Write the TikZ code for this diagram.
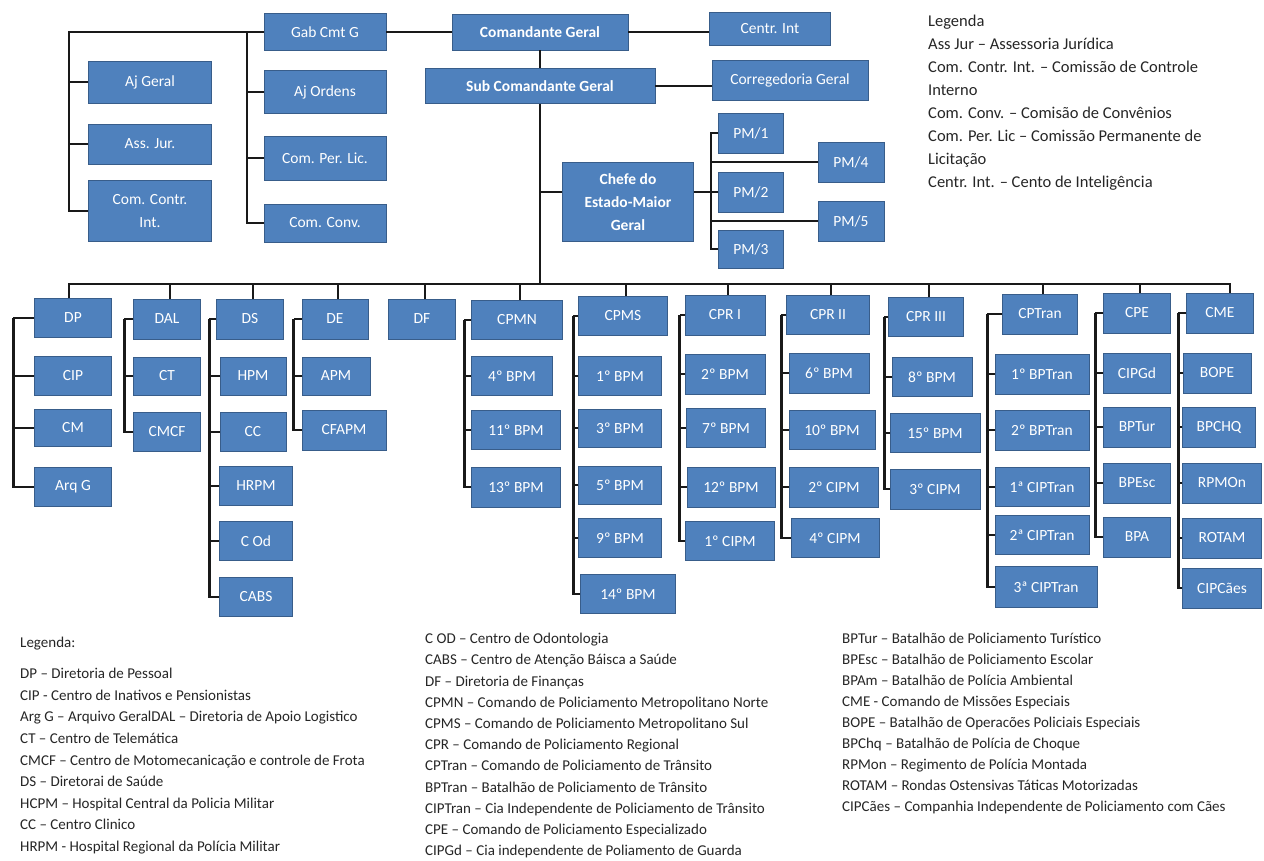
\documentclass[tikz,border=0pt]{standalone}
\usepackage{fontspec}
\setmainfont{Carlito}
\usetikzlibrary{positioning, calc}

\definecolor{unitblue}{RGB}{79,129,189}
\definecolor{unitedge}{RGB}{56,93,138}
\definecolor{linkgray}{RGB}{25,25,25}

\begin{document}
\begin{tikzpicture}[x=1pt, y=-1pt,
  unit/.style={draw=unitedge, line width=0.8pt, fill=unitblue, text=white, inner sep=0pt,
    minimum width=#1, minimum height=39pt, align=center, font=\fontsize{15.5}{23}\selectfont},
  unit/.default=67pt,
  head/.style={unit=#1, font=\fontsize{15.5}{23}\selectfont\bfseries},
  link/.style={draw=linkgray, line width=2.8pt},
  legend/.style={anchor=north west, inner sep=0pt, align=left, text=black!85}
]
\fill[white] (0,0) rectangle (1264,861);
\useasboundingbox (0,0) rectangle (1264,861);

% command level
\node[head=176pt, minimum height=36pt] (cmdg) at (540,32) {Comandante Geral};
\node[unit=122pt, minimum height=37pt] (gab) at (325,32) {Gab Cmt G};
\node[unit=121pt, minimum height=33pt] (centr) at (770,29) {Centr. Int};
\node[head=230pt, minimum height=35pt] (subcmd) at (540,86) {Sub Comandante Geral};
\node[unit=156pt, minimum height=40pt] (correg) at (790,80) {Corregedoria Geral};
\node[unit=123pt, minimum height=42pt] (ajgeral) at (150,82) {Aj Geral};
\node[unit=123pt, minimum height=40pt] (assjur) at (150,144) {Ass. Jur.};
\node[unit=123pt, minimum height=61pt] (comcontr) at (150,211) {Com. Contr.\\Int.};
\node[unit=122pt, minimum height=43pt] (ajordens) at (325,92) {Aj Ordens};
\node[unit=122pt, minimum height=44pt] (comperlic) at (325,158) {Com. Per. Lic.};
\node[unit=122pt, minimum height=38pt] (comconv) at (325,223) {Com. Conv.};

% staff
\node[head=131pt, minimum height=79pt] (chefe) at (628,202) {Chefe do\\Estado-Maior\\Geral};
\node[unit=65pt, minimum height=40pt] (pm1) at (751,133) {PM/1};
\node[unit=65pt, minimum height=40pt] (pm2) at (751,192) {PM/2};
\node[unit=65pt, minimum height=38pt] (pm3) at (751,249) {PM/3};
\node[unit=66pt, minimum height=40pt] (pm4) at (851,162) {PM/4};
\node[unit=66pt, minimum height=40pt] (pm5) at (851,221) {PM/5};

% directorates
\node[unit=77pt] (dp) at (73,318) {DP};
\node[unit=77pt] (cip) at (73,376) {CIP};
\node[unit=77pt, minimum height=37pt] (cm) at (73,428) {CM};
\node[unit=77pt] (arqg) at (73,487) {Arq G};
\node[unit, minimum height=40pt] (dal) at (167,319) {DAL};
\node[unit, minimum height=38pt] (ct) at (167,376) {CT};
\node[unit] (cmcf) at (167,432) {CMCF};
\node[unit, minimum height=40pt] (ds) at (250,319) {DS};
\node[unit=66pt, minimum height=38pt] (hpm) at (253,376) {HPM};
\node[unit=66pt] (cc) at (253,432) {CC};
\node[unit=73pt] (hrpm) at (256,486) {HRPM};
\node[unit=73pt] (cod) at (256,541) {C Od};
\node[unit=73pt] (cabs) at (256,597) {CABS};
\node[unit=66pt, minimum height=40pt] (de) at (335,319) {DE};
\node[unit=68pt, minimum height=38pt] (apm) at (336,376) {APM};
\node[unit=84pt, minimum height=40pt] (cfapm) at (344,430) {CFAPM};
\node[unit, minimum height=40pt] (df) at (422,319) {DF};

% metropolitan and regional commands
\node[unit=91pt] (cpmn) at (517,320) {CPMN};
\node[unit=81pt] (bpm4) at (512,376) {4º BPM};
\node[unit=89pt] (bpm11) at (516,430) {11º BPM};
\node[unit=89pt, minimum height=40pt] (bpm13) at (516,487) {13º BPM};
\node[unit=89pt] (cpms) at (623,316) {CPMS};
\node[unit=83pt] (bpm1) at (620,376) {1º BPM};
\node[unit=83pt, minimum height=38pt] (bpm3) at (620,428) {3º BPM};
\node[unit=83pt, minimum height=38pt] (bpm5) at (620,485) {5º BPM};
\node[unit=83pt] (bpm9) at (620,538) {9º BPM};
\node[unit=95pt] (bpm14) at (628,594) {14º BPM};
\node[unit=80pt, minimum height=40pt] (cpri) at (725,315) {CPR I};
\node[unit=80pt, minimum height=40pt] (bpm2) at (725,374) {2º BPM};
\node[unit=79pt] (bpm7) at (726,428) {7º BPM};
\node[unit=88pt, minimum height=40pt] (bpm12) at (731,487) {12º BPM};
\node[unit=89pt] (cipm1) at (730,541) {1º CIPM};
\node[unit=83pt] (cprii) at (828,315) {CPR II};
\node[unit=80pt, minimum height=40pt] (bpm6) at (829,373) {6º BPM};
\node[unit=86pt] (bpm10) at (832,430) {10º BPM};
\node[unit=89pt, minimum height=40pt] (cipm2) at (834,487) {2º CIPM};
\node[unit=88pt] (cipm4) at (835,538) {4º CIPM};
\node[unit=75pt] (cpriii) at (926,317) {CPR III};
\node[unit=80pt] (bpm8) at (932,377) {8º BPM};
\node[unit=90pt] (bpm15) at (935,433) {15º BPM};
\node[unit=90pt, minimum height=40pt] (cipm3) at (935,489) {3º CIPM};

% specialised commands
\node[unit=75pt, minimum height=40pt] (cptran) at (1040,314) {CPTran};
\node[unit=94pt, minimum height=40pt] (bptran1) at (1042,374) {1º BPTran};
\node[unit=94pt, minimum height=40pt] (bptran2) at (1042,430) {2º BPTran};
\node[unit=94pt] (ciptran1) at (1042,487) {1ª CIPTran};
\node[unit=94pt] (ciptran2) at (1042,535) {2ª CIPTran};
\node[unit=102pt, minimum height=41pt] (ciptran3) at (1046,587) {3ª CIPTran};
\node[unit, minimum height=40pt] (cpe) at (1137,313) {CPE};
\node[unit, minimum height=40pt] (cipgd) at (1137,373) {CIPGd};
\node[unit, minimum height=40pt] (bptur) at (1137,427) {BPTur};
\node[unit, minimum height=40pt] (bpesc) at (1137,483) {BPEsc};
\node[unit, minimum height=40pt] (bpa) at (1137,537) {BPA};
\node[unit, minimum height=40pt] (cme) at (1220,313) {CME};
\node[unit=68pt, minimum height=40pt] (bope) at (1217,373) {BOPE};
\node[unit=73pt, minimum height=40pt] (bpchq) at (1219,427) {BPCHQ};
\node[unit=79pt, minimum height=40pt] (rpmon) at (1222,483) {RPMOn};
\node[unit=79pt, minimum height=40pt] (rotam) at (1222,538) {ROTAM};
\node[unit=79pt, minimum height=40pt] (cipcaes) at (1222,588) {CIPCães};

% connectors, top
\coordinate (lt) at (69,32);
\coordinate (mt) at (247,32);
\coordinate (bus) at (540,284);
\coordinate (pmv) at (711,133);
\draw[link] (gab.west) -- (lt) |- (comcontr.west);
\foreach \k in {ajgeral, assjur} \draw[link] (lt |- \k) -- (\k.west);
\draw[link] (mt) |- (comconv.west);
\foreach \k in {ajordens, comperlic} \draw[link] (mt |- \k) -- (\k.west);
\draw[link] (gab.east) -- (cmdg.west);
\draw[link] (cmdg.east) -- (cmdg.east -| centr.west);
\draw[link] (cmdg.south) -- (subcmd.north);
\draw[link] (subcmd.east) -- (subcmd.east -| correg.west);
\draw[link] (subcmd.south) -- (bus);
\draw[link] (bus |- pm2) -- (pm2 -| chefe.west);
\draw[link] (chefe.east |- pm2) -- (pm2.west);
\draw[link] (pm1.west) -- (pmv) -- (pmv |- pm3) -- (pm3.west);
\foreach \k in {pm4, pm5} \draw[link] (pmv |- \k) -- (\k.west);

% connectors, bottom
\draw[link] ([xshift=-4pt]dp.north) -- ([xshift=-4pt]dp.north |- bus) -- ([xshift=10pt]cme.north |- bus) -- ([xshift=10pt]cme.north);
\foreach \p in {dal, ds, de, df, cpmn, cpms, cpri, cprii, cpriii, cptran, cpe}
  \draw[link] ([xshift=3pt]\p.north) -- ([xshift=3pt]\p.north |- bus);
\foreach \p/\off/\kids in {dp/21/{cip,cm,arqg}, dal/9/{ct,cmcf}, ds/7/{hpm,cc,hrpm,cod,cabs},
    de/8/{apm,cfapm}, cpmn/7/{bpm4,bpm11,bpm13}, cpms/5/{bpm1,bpm3,bpm5,bpm9,bpm14},
    cpri/5/{bpm2,bpm7,bpm12,cipm1}, cprii/5/{bpm6,bpm10,cipm2,cipm4}, cpriii/4/{bpm8,bpm15,cipm3},
    cptran/15/{bptran1,bptran2,ciptran1,ciptran2,ciptran3}, cpe/8/{cipgd,bptur,bpesc,bpa},
    cme/8/{bope,bpchq,rpmon,rotam,cipcaes}} {
  \coordinate (v) at ([xshift=-\off pt]\p.west);
  \draw[link] (\p.west) -- (v);
  \foreach \k in \kids \draw[link] (v) |- (\k.west);
}

% legends
\node[legend, font=\fontsize{16.5}{23}\selectfont] (legtop) at (928,15) {Legenda\\
Ass Jur – Assessoria Jurídica\\
Com. Contr. Int. – Comissão de Controle\\
Interno\\
Com. Conv. – Comisão de Convênios\\
Com. Per. Lic – Comissão Permanente de\\
Licitação\\
Centr. Int. – Cento de Inteligência};
\node[legend, font=\fontsize{15}{21.5}\selectfont] (leghead) at (20,637) {Legenda:};
\node[legend, font=\fontsize{15}{21.6}\selectfont] (legleft) at (20,668) {DP – Diretoria de Pessoal\\
CIP -  Centro de Inativos e Pensionistas\\
Arg G – Arquivo GeralDAL – Diretoria de Apoio Logistico\\
CT – Centro de Telemática\\
CMCF – Centro de Motomecanicação e controle de Frota\\
DS – Diretorai de Saúde\\
HCPM – Hospital Central da Policia Militar\\
CC – Centro Clinico\\
HRPM  - Hospital Regional da Polícia Militar};
\node[legend, font=\fontsize{15}{21.2}\selectfont] (legmid) at (425,633) {C OD – Centro de Odontologia\\
CABS – Centro de Atenção Báisca a Saúde\\
DF – Diretoria de Finanças\\
CPMN – Comando de Policiamento Metropolitano Norte\\
CPMS – Comando de Policiamento Metropolitano Sul\\
CPR – Comando de Policiamento Regional\\
CPTran – Comando de Policiamento de Trânsito\\
BPTran – Batalhão de Policiamento de Trânsito\\
CIPTran – Cia Independente de Policiamento de Trânsito\\
CPE – Comando de Policiamento Especializado\\
CIPGd – Cia independente de Poliamento de Guarda};
\node[legend, font=\fontsize{15}{21}\selectfont] (legright) at (842,633) {BPTur – Batalhão de Policiamento Turístico\\
BPEsc – Batalhão de Policiamento Escolar\\
BPAm – Batalhão de Polícia Ambiental\\
CME  - Comando de Missões Especiais\\
BOPE – Batalhão de Operacões Policiais Especiais\\
BPChq – Batalhão de Polícia de Choque\\
RPMon – Regimento de Polícia Montada\\
ROTAM – Rondas Ostensivas Táticas Motorizadas\\
CIPCães – Companhia Independente de Policiamento com Cães};
\end{tikzpicture}
\end{document}
